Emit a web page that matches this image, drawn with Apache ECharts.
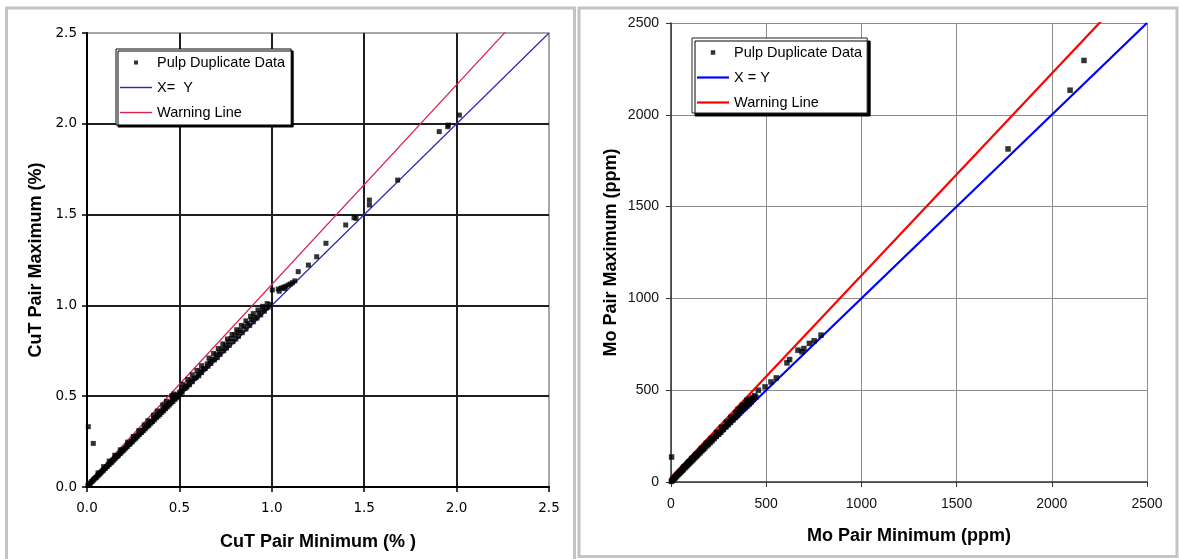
<!DOCTYPE html>
<html>
<head>
<meta charset="utf-8">
<script src="https://cdn.jsdelivr.net/npm/echarts@6/dist/echarts.min.js"></script>
<style>
html,body{margin:0;padding:0;background:#fff;}
#chart{width:1179px;height:559px;}
</style>
</head>
<body>
<div id="chart"></div>
<script>
// ---------- Left chart (CuT, %) ----------
const cutMin = [0.007,0.034,
0.005,0.01,0.015,0.02,0.025,0.03,0.035,0.04,0.045,0.05,0.055,0.06,0.065,0.07,0.075,0.08,0.085,0.09,0.095,0.1,
0.105,0.11,0.115,0.12,0.125,0.13,0.135,0.14,0.145,0.15,0.155,0.16,0.165,0.17,0.175,0.18,0.185,0.19,0.195,0.2,
0.205,0.21,0.215,0.22,0.225,0.23,0.235,0.24,0.245,0.25,0.255,0.26,0.265,0.27,0.275,0.28,0.285,0.29,0.295,0.3,
0.305,0.31,0.315,0.32,0.325,0.33,0.335,0.34,0.345,0.35,0.355,0.36,0.365,0.37,0.375,0.38,0.385,0.39,0.395,0.4,
0.405,0.41,0.415,0.42,0.425,0.43,0.435,0.44,0.445,0.45,0.455,0.46,0.465,0.47,0.475,0.48,0.485,0.49,0.495,0.5,0.505,
0.51,0.515,0.52,0.53,0.535,0.54,0.55,0.555,0.565,0.57,0.58,0.59,0.6,0.605,0.615,0.62,0.63,0.64,0.65,0.655,
0.665,0.67,0.68,0.69,0.7,0.705,0.715,0.72,0.73,0.74,0.75,0.755,0.765,0.77,0.78,0.79,0.8,0.805,0.815,0.82,
0.83,0.84,0.85,0.86,0.87,0.88,0.89,0.9,0.91,0.92,0.93,0.94,0.95,0.96,0.97,0.98,0.99,
0.06,0.09,0.12,0.15,0.18,0.22,0.25,0.28,0.31,0.33,0.36,0.38,0.41,0.43,0.46,0.47,0.52,0.545,0.57,0.595,
0.62,0.66,0.685,0.71,0.735,0.76,0.785,0.81,0.835,0.86,0.885,0.9,0.925,0.95,0.975,
1.003,1.035,1.05,1.062,1.075,1.088,1.1,1.112,1.125,1.143,1.04,1.07,
1.198,1.243,1.293,1.4,1.445,1.456,1.528,1.528,1.681,1.906,1.952,1.955,2.015];
const cutMax = [0.332,0.24,
0.008,0.012,0.02,0.022,0.03,0.034,0.04,0.045,0.05,0.052,0.06,0.065,0.068,0.076,0.078,0.086,0.09,0.094,0.102,0.104,
0.112,0.113,0.122,0.124,0.131,0.136,0.138,0.148,0.149,0.157,0.16,0.168,0.17,0.174,0.184,0.184,0.193,0.195,0.205,0.204,
0.214,0.215,0.226,0.224,0.236,0.235,0.241,0.25,0.249,0.262,0.26,0.27,0.27,0.283,0.28,0.29,0.291,0.304,0.3,0.312,
0.31,0.322,0.32,0.335,0.331,0.342,0.34,0.356,0.351,0.362,0.36,0.377,0.37,0.384,0.381,0.398,0.39,0.404,0.4,0.418,
0.411,0.426,0.42,0.44,0.431,0.447,0.441,0.46,0.451,0.466,0.462,0.481,0.471,0.488,0.482,0.5,0.491,0.508,0.5,0.522,0.51,
0.53,0.522,0.545,0.542,0.556,0.55,0.575,0.563,0.59,0.58,0.598,0.602,0.62,0.612,0.64,0.63,0.65,0.652,0.678,0.665,
0.69,0.68,0.705,0.7,0.728,0.712,0.742,0.73,0.762,0.75,0.782,0.765,0.8,0.78,0.818,0.8,0.838,0.815,0.852,0.83,
0.862,0.85,0.885,0.87,0.9,0.89,0.922,0.91,0.935,0.93,0.958,0.948,0.975,0.968,0.985,0.99,1.005,
0.078,0.112,0.143,0.175,0.205,0.247,0.278,0.31,0.342,0.365,0.395,0.418,0.452,0.472,0.503,0.512,0.566,0.592,0.618,0.642,
0.668,0.71,0.735,0.762,0.788,0.815,0.84,0.866,0.89,0.915,0.94,0.955,0.975,0.995,1.01,
1.085,1.09,1.095,1.1,1.105,1.112,1.118,1.125,1.135,1.186,1.078,1.092,
1.222,1.268,1.342,1.443,1.483,1.48,1.58,1.553,1.69,1.957,1.984,1.993,2.048];
const cutTickLabels = ['0.0','0.5','1.0','1.5','2.0','2.5'];
const cutXYx = [0, 2.5];
const cutXYy = [0, 2.5];
const cutWarnX = [0, 2.5];
const cutWarnY = [0.015, 2.765];

// ---------- Right chart (Mo, ppm) ----------
const moMin = [2,3,5,8,10,12,15,18,20,22,25,28,30,33,36,40,42,45,48,50,53,56,60,62,65,68,72,75,78,82,85,88,92,95,98,
102,105,108,112,115,118,122,125,128,132,135,138,142,145,150,153,158,162,165,170,175,178,182,188,192,196,
200,205,210,215,220,226,232,238,245,250,255,262,268,275,280,288,295,300,308,312,318,325,330,338,345,350,
358,362,368,372,378,385,390,395,400,405,410,415,420,432,445,
55,70,90,110,130,160,185,210,240,265,290,315,340,352,375,398,412,428,440,
459,494,525,553,609,623,667,688,698,727,752,788,
1770,2096,2169];
const moMax = [3,136,8,12,11,18,17,24,22,30,27,36,33,42,40,48,45,55,52,60,57,66,64,74,70,80,77,88,83,95,90,100,98,110,104,
115,111,124,118,130,125,138,132,145,139,150,146,158,153,168,160,175,170,185,178,195,186,200,197,212,205,
218,214,230,224,240,236,250,248,262,260,270,272,285,286,300,300,318,312,330,325,340,338,355,352,362,365,
375,400,385,410,395,420,405,432,415,440,425,445,435,450,462,
62,82,105,128,150,182,210,236,270,298,325,352,378,395,418,445,452,460,470,
500,518,545,567,649,667,718,709,727,755,769,800,
1814,2134,2296];
const moTickLabels = ['0','500','1000','1500','2000','2500'];
const moXYx = [0, 2500];
const moXYy = [0, 2500];
const moWarnX = [0, 2500];
const moWarnY = [25, 2775];

const zip = (a, b) => a.map((v, i) => [v, b[i]]);

const chart = echarts.init(document.getElementById('chart'), null, {renderer: 'canvas'});

const leftTickFont = {color: '#000', fontFamily: 'DejaVu Sans', fontSize: 13.5};
const rightTickFont = {color: '#111', fontFamily: 'Liberation Sans', fontSize: 14};
const titleFont = {color: '#000', fontFamily: 'Liberation Sans', fontWeight: 'bold', fontSize: 18};

const SQ = 'path://M0,0H1V1H0Z';

const option = {
  animation: false,
  backgroundColor: '#fff',
  graphic: [
    {type: 'polyline', silent: true, shape: {points: [[6.5, 600], [6.5, 8], [574.5, 8], [574.5, 600]]},
     style: {stroke: '#c4c4c4', lineWidth: 3, fill: null}},
    {type: 'rect', silent: true, shape: {x: 579, y: 8, width: 598, height: 548.5},
     style: {stroke: '#c4c4c4', lineWidth: 3, fill: null}}
  ],
  grid: [
    {left: 87, top: 33, width: 462, height: 454, show: true, borderColor: '#8a8a8a', borderWidth: 1.5, backgroundColor: 'transparent'},
    {left: 671, top: 23, width: 476, height: 459, show: false}
  ],
  legend: [
    {
      left: 116, top: 49, orient: 'vertical', itemWidth: 32, itemHeight: 4, itemGap: 10,
      padding: [6, 6, 5, 4], backgroundColor: '#fff', borderColor: '#000', borderWidth: 1,
      shadowColor: '#000', shadowBlur: 0, shadowOffsetX: 2, shadowOffsetY: 2,
      textStyle: {color: '#000', fontFamily: 'Liberation Sans', fontSize: 14.5},
      selectedMode: false,
      data: [
        {name: 'Pulp Duplicate Data', icon: SQ, itemStyle: {color: '#000', borderWidth: 0}},
        {name: 'X=  Y', icon: 'path://M0,0H32V1.4H0Z', itemStyle: {color: '#2828b4', borderWidth: 0}},
        {name: 'Warning Line', icon: 'path://M0,0H32V1.4H0Z', itemStyle: {color: '#d8204c', borderWidth: 0}}
      ]
    },
    {
      left: 692, top: 38, orient: 'vertical', itemWidth: 32, itemHeight: 4.5, itemGap: 10,
      padding: [7, 5, 3, 5], backgroundColor: '#fff', borderColor: '#222', borderWidth: 1,
      shadowColor: '#000', shadowBlur: 0, shadowOffsetX: 3, shadowOffsetY: 3,
      textStyle: {color: '#000', fontFamily: 'Liberation Sans', fontSize: 14.5},
      selectedMode: false,
      data: [
        {name: 'Pulp Duplicate Data', icon: SQ, itemStyle: {color: '#000', borderWidth: 0}},
        {name: 'X = Y', icon: 'path://M0,0H32V2.2H0Z', itemStyle: {color: '#0000ff', borderWidth: 0}},
        {name: 'Warning Line', icon: 'path://M0,0H32V2.2H0Z', itemStyle: {color: '#ff0000', borderWidth: 0}}
      ]
    }
  ],
  xAxis: [
    {
      gridIndex: 0, type: 'value', min: 0, max: 2.5, interval: 0.5,
      name: 'CuT Pair Minimum (% )', nameLocation: 'middle', nameGap: 46, nameTextStyle: titleFont,
      axisLine: {show: true, onZero: false, lineStyle: {color: '#000', width: 2}},
      axisTick: {show: true, length: 5, lineStyle: {color: '#000', width: 1.5}},
      axisLabel: Object.assign({margin: 14, formatter: v => cutTickLabels[Math.round(v / 0.5)]}, leftTickFont),
      splitLine: {show: true, showMinLine: false, showMaxLine: false, lineStyle: {color: '#1e1e1e', width: 2}}
    },
    {
      gridIndex: 1, type: 'value', min: 0, max: 2500, interval: 500,
      name: 'Mo Pair Minimum (ppm)', nameLocation: 'middle', nameGap: 45, nameTextStyle: titleFont,
      axisLine: {show: true, onZero: false, lineStyle: {color: '#333', width: 1.5}},
      axisTick: {show: true, length: 5, lineStyle: {color: '#333', width: 1}},
      axisLabel: Object.assign({margin: 15, formatter: v => moTickLabels[Math.round(v / 500)]}, rightTickFont),
      splitLine: {show: true, lineStyle: {color: '#8c8c8c', width: 1}}
    }
  ],
  yAxis: [
    {
      gridIndex: 0, type: 'value', min: 0, max: 2.5, interval: 0.5,
      name: 'CuT Pair Maximum (%)', nameLocation: 'middle', nameGap: 42, nameTextStyle: titleFont,
      axisLine: {show: true, onZero: false, lineStyle: {color: '#000', width: 2}},
      axisTick: {show: true, length: 5, lineStyle: {color: '#000', width: 1.5}},
      axisLabel: Object.assign({margin: 10, formatter: v => cutTickLabels[Math.round(v / 0.5)]}, leftTickFont),
      splitLine: {show: true, showMinLine: false, showMaxLine: false, lineStyle: {color: '#1e1e1e', width: 2}}
    },
    {
      gridIndex: 1, type: 'value', min: 0, max: 2500, interval: 500,
      name: 'Mo Pair Maximum (ppm)', nameLocation: 'middle', nameGap: 51, nameTextStyle: titleFont,
      axisLine: {show: true, onZero: false, lineStyle: {color: '#333', width: 1.5}},
      axisTick: {show: true, length: 5, lineStyle: {color: '#333', width: 1}},
      axisLabel: Object.assign({margin: 12, formatter: v => moTickLabels[Math.round(v / 500)]}, rightTickFont),
      splitLine: {show: true, lineStyle: {color: '#8c8c8c', width: 1}}
    }
  ],
  series: [
    {name: 'X=  Y', type: 'line', xAxisIndex: 0, yAxisIndex: 0, data: zip(cutXYx, cutXYy),
     symbol: 'none', color: '#2828b4', lineStyle: {color: '#2828b4', width: 1.2}, silent: true, clip: true, z: 3},
    {name: 'Warning Line', type: 'line', xAxisIndex: 0, yAxisIndex: 0, data: zip(cutWarnX, cutWarnY),
     symbol: 'none', color: '#d8204c', lineStyle: {color: '#d8204c', width: 1.2}, silent: true, clip: true, z: 3},
    {name: 'Pulp Duplicate Data', type: 'scatter', xAxisIndex: 0, yAxisIndex: 0, data: zip(cutMin, cutMax),
     symbol: 'rect', symbolSize: 5, color: '#000', itemStyle: {color: '#000'}, silent: true, z: 4},

    {name: 'X = Y', type: 'line', xAxisIndex: 1, yAxisIndex: 1, data: zip(moXYx, moXYy),
     symbol: 'none', color: '#0000ff', lineStyle: {color: '#0000ff', width: 2.2}, silent: true, clip: true, z: 3},
    {name: 'Warning Line', type: 'line', xAxisIndex: 1, yAxisIndex: 1, data: zip(moWarnX, moWarnY),
     symbol: 'none', color: '#ff0000', lineStyle: {color: '#ff0000', width: 2.2}, silent: true, clip: true, z: 3},
    {name: 'Pulp Duplicate Data', type: 'scatter', xAxisIndex: 1, yAxisIndex: 1, data: zip(moMin, moMax),
     symbol: 'rect', symbolSize: 5.5, color: '#000', itemStyle: {color: '#000'}, silent: true, z: 4}
  ]
};
chart.setOption(option);
</script>
</body>
</html>
